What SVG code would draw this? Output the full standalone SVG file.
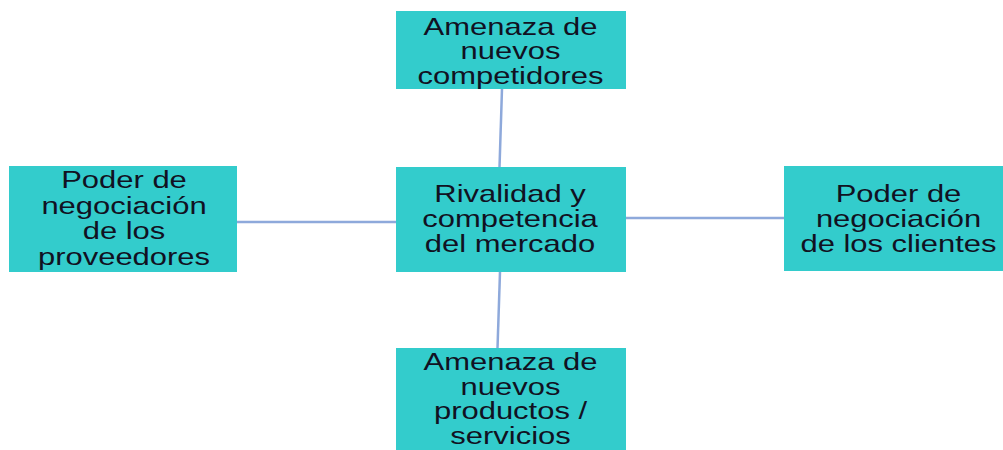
<svg xmlns="http://www.w3.org/2000/svg" width="1003" height="450" viewBox="0 0 1003 450">
<style>
.box{fill:#33CCCC;}
.lbl{font-family:"Liberation Sans",Arial,sans-serif;font-size:24px;fill:#111122;text-anchor:middle;}
.conn{stroke:#8EA9DB;stroke-width:2.5;fill:none;}
</style>
<rect width="1003" height="450" fill="#ffffff"/>
<g id="connectors">
<line class="conn" x1="502" y1="89" x2="499.5" y2="167"/>
<line class="conn" x1="500" y1="272" x2="497.5" y2="348"/>
<line class="conn" x1="237" y1="222" x2="396" y2="222"/>
<line class="conn" x1="626" y1="218" x2="784" y2="218"/>
</g>
<g id="node-top">
<rect class="box" x="396" y="11" width="230" height="78"/>
<g transform="translate(510.5 0) scale(1.29 1)">
<text class="lbl" x="0" y="35">Amenaza de</text>
<text class="lbl" x="0" y="59.5">nuevos</text>
<text class="lbl" x="0" y="84">competidores</text>
</g>
</g>
<g id="node-center">
<rect class="box" x="396" y="167" width="230" height="105"/>
<g transform="translate(510 0) scale(1.29 1)">
<text class="lbl" x="0" y="202.5">Rivalidad y</text>
<text class="lbl" x="0" y="227">competencia</text>
<text class="lbl" x="0" y="252">del mercado</text>
</g>
</g>
<g id="node-left">
<rect class="box" x="9" y="166" width="228" height="106"/>
<g transform="translate(124 0) scale(1.29 1)">
<text class="lbl" x="0" y="188.5">Poder de</text>
<text class="lbl" x="0" y="214">negociación</text>
<text class="lbl" x="0" y="239.5">de los</text>
<text class="lbl" x="0" y="265">proveedores</text>
</g>
</g>
<g id="node-right">
<rect class="box" x="784" y="166" width="228" height="105"/>
<g transform="translate(898.5 0) scale(1.29 1)">
<text class="lbl" x="0" y="202.5">Poder de</text>
<text class="lbl" x="0" y="227">negociación</text>
<text class="lbl" x="0" y="252">de los clientes</text>
</g>
</g>
<g id="node-bottom">
<rect class="box" x="396" y="348" width="230" height="110"/>
<g transform="translate(510.5 0) scale(1.29 1)">
<text class="lbl" x="0" y="370">Amenaza de</text>
<text class="lbl" x="0" y="395">nuevos</text>
<text class="lbl" x="0" y="419.5">productos /</text>
<text class="lbl" x="0" y="444.5">servicios</text>
</g>
</g>
</svg>
